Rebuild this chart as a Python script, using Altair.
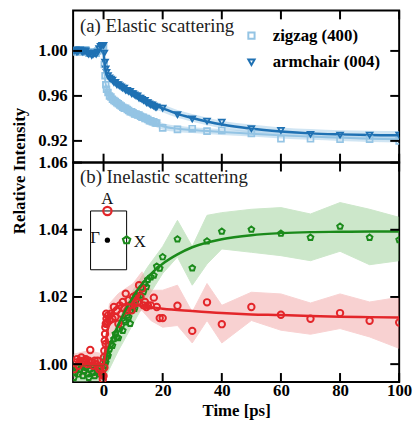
import altair as alt
import pandas as pd

SERIF = "Liberation Serif"

# ---------------- axes ----------------
X_DOMAIN = [-10.3, 100.0]
TOP_DOMAIN = [0.9007, 1.036]
BOT_DOMAIN = [0.9947, 1.06]
X_TICKS = [0, 20, 40, 60, 80, 100]
TOP_Y_TICKS = [0.92, 0.96, 1.00]
BOT_Y_TICKS = [1.00, 1.02, 1.04, 1.06]

SERIES = ["zigzag (400)", "armchair (004)"]
PANEL_A = "(a)  Elastic scattering"
PANEL_B = "(b)  Inelastic scattering"

# ---------------- (a) elastic ----------------
TOP_DENSE_T = [-10, -9.5, -9, -8.5, -8, -7.5, -7, -6.5, -6, -5.5, -5, -4.5, -4, -3.5, -3, -2.5, -2, -1.5, -1, -0.5,
               0, 0.25, 0.5, 0.75, 1, 1.5, 2, 2.5, 3, 3.5, 4, 4.5, 5, 5.5, 6, 6.5, 7, 7.5, 8, 8.5, 9, 9.5,
               10, 10.5, 11, 11.5, 12, 12.5, 13, 13.5, 14, 14.5, 15, 15.5, 16, 16.5, 17, 17.5, 18]
ARMCHAIR_DENSE = [1.000, 1.001, 0.999, 1.000, 1.001, 1.000, 0.999, 1.000, 1.000, 0.998, 0.997, 0.998, 0.996, 0.997,
                  0.998, 0.997, 0.999, 1.002, 1.004, 1.005,
                  1.005, 0.998, 0.990, 0.984, 0.981, 0.978, 0.976, 0.975, 0.974, 0.972, 0.972, 0.970, 0.970, 0.969,
                  0.968, 0.967, 0.967, 0.965, 0.965, 0.964, 0.964, 0.962, 0.962, 0.961, 0.960, 0.960, 0.958, 0.958,
                  0.957, 0.956, 0.956, 0.954, 0.954, 0.953, 0.952, 0.952, 0.951, 0.950, 0.950]
ZIGZAG_DENSE = [1.000, 0.999, 1.000, 1.001, 0.999, 1.000, 1.000, 0.999, 1.001, 0.999, 0.998, 0.999, 0.998, 0.998,
                0.999, 0.998, 1.000, 1.001, 1.003, 1.004,
                1.003, 0.988, 0.978, 0.970, 0.966, 0.963, 0.960, 0.959, 0.957, 0.956, 0.955, 0.954, 0.953, 0.952,
                0.951, 0.950, 0.949, 0.949, 0.948, 0.947, 0.946, 0.946, 0.945, 0.944, 0.944, 0.943, 0.943, 0.942,
                0.941, 0.941, 0.940, 0.940, 0.939, 0.938, 0.938, 0.937, 0.937, 0.936, 0.936]
TOP_SPARSE_T = [20, 25, 30, 35, 40, 50, 60, 70, 80, 90, 100]
ZIGZAG_SPARSE = [0.9316, 0.9302, 0.9308, 0.9287, 0.9293, 0.9267, 0.9220, 0.9220, 0.9215, 0.9215, 0.9200]
ARMCHAIR_SPARSE = [0.9491, 0.9433, 0.9395, 0.9375, 0.9366, 0.9308, 0.9293, 0.9258, 0.9252, 0.9252, 0.9250]

TOP_FIT_T = [0, 0.5, 1, 2, 3, 5, 7.5, 10, 15, 20, 25, 30, 40, 50, 60, 70, 80, 90, 100]
ARMCHAIR_FIT = [1.000, 0.985, 0.979, 0.975, 0.973, 0.969, 0.965, 0.962, 0.954, 0.949, 0.944, 0.9404, 0.9345,
                0.9308, 0.9284, 0.9267, 0.9258, 0.9252, 0.9249]
ARMCHAIR_LO = [0.997, 0.982, 0.976, 0.972, 0.970, 0.966, 0.962, 0.959, 0.951, 0.9455, 0.9405, 0.937, 0.931,
               0.927, 0.9245, 0.923, 0.922, 0.9215, 0.921]
ARMCHAIR_HI = [1.003, 0.988, 0.982, 0.978, 0.976, 0.972, 0.968, 0.965, 0.957, 0.9525, 0.9475, 0.944, 0.938,
               0.9345, 0.932, 0.9305, 0.9295, 0.929, 0.9288]
ZIGZAG_FIT = [1.000, 0.975, 0.967, 0.960, 0.957, 0.953, 0.949, 0.945, 0.939, 0.933, 0.9308, 0.9296, 0.9279,
              0.9264, 0.9249, 0.9238, 0.9229, 0.9220, 0.9215]
ZIGZAG_LO = [0.997, 0.972, 0.964, 0.957, 0.954, 0.950, 0.946, 0.942, 0.936, 0.930, 0.928, 0.927, 0.9253,
             0.9238, 0.9222, 0.921, 0.920, 0.919, 0.9185]
ZIGZAG_HI = [1.003, 0.978, 0.970, 0.963, 0.960, 0.956, 0.952, 0.948, 0.942, 0.936, 0.9336, 0.9322, 0.9305,
             0.929, 0.9276, 0.9266, 0.9258, 0.925, 0.9245]

# ---------------- (b) inelastic ----------------
BOT_DENSE_T = [-10, -9.5, -9, -8.5, -8, -7.5, -7, -6.5, -6, -5.5, -5, -4.5, -4, -3.5, -3, -2.5, -2, -1.5, -1, -0.5,
               0, 0.25, 0.5, 0.75, 1, 1.25, 1.5, 2, 2.5, 3, 3.5, 4, 4.5, 5, 5.5, 6, 6.5, 7, 7.5, 8, 8.5, 9, 9.5,
               10, 10.5, 11, 11.5, 12, 12.5, 13, 13.5, 14, 14.5, 15, 16, 17, 18, 19, 20]
A_DENSE = [0.9985, 1.0005, 1.0015, 0.9995, 1.0010, 1.0020, 1.0005, 1.0010, 1.0015, 1.0000, 1.0010, 1.0042,
           1.0005, 0.9995, 1.0010, 1.0000, 1.0010, 0.9985, 0.9990, 0.9970,
           0.9965, 1.0040, 1.0090, 1.0120, 1.0135, 1.0125, 1.0145, 1.0130, 1.0150, 1.0135, 1.0170, 1.0140,
           1.0160, 1.0120, 1.0175, 1.0150, 1.0185, 1.0165, 1.0210, 1.0160, 1.0190, 1.0175, 1.0160, 1.0200,
           1.0180, 1.0205, 1.0185, 1.0235, 1.0200, 1.0225, 1.0175, 1.0185, 1.0170, 1.0175, 1.0175, 1.0198,
           1.0170, 1.0137, 1.0137]
A_EXTRA_T = [-0.25, 0.1, 0.4, 0.6, 0.9, 1.1, 0.3, 0.7]
A_EXTRA = [0.9955, 1.0020, 1.0070, 1.0110, 1.0150, 1.0120, 0.9990, 1.0060]
X_DENSE = [0.9960, 0.9975, 0.9990, 0.9970, 0.9985, 0.9995, 0.9965, 0.9980, 0.9990, 0.9970, 0.9960, 0.9985,
           0.9995, 0.9975, 0.9965, 0.9985, 0.9980, 0.9970, 0.9990, 0.9975,
           0.9985, 0.9995, 1.0010, 1.0005, 1.0020, 1.0030, 1.0025, 1.0045, 1.0060, 1.0055, 1.0075, 1.0090,
           1.0080, 1.0078, 1.0105, 1.0115, 1.0100, 1.0130, 1.0125, 1.0145, 1.0140, 1.0121, 1.0160, 1.0170,
           1.0165, 1.0190, 1.0200, 1.0215, 1.0205, 1.0225, 1.0215, 1.0240, 1.0230, 1.0252, 1.0259, 1.0264,
           1.0291, 1.0285, 1.0319]
BOT_SPARSE_T = [25, 30, 35, 40, 50, 60, 70, 80, 90, 100]
A_SPARSE = [1.0174, 1.0099, 1.0184, 1.0119, 1.0170, 1.0147, 1.0135, 1.0152, 1.0129, 1.0124]
X_SPARSE = [1.0372, 1.0286, 1.0366, 1.0395, 1.0401, 1.0389, 1.0377, 1.0410, 1.0377, 1.0370]

A_FIT_T = [-10, 0, 1, 2, 3, 4, 6, 8, 10, 15, 20, 30, 40, 50, 60, 70, 80, 90, 100]
A_FIT = [1.0000, 1.0000, 1.0080, 1.0130, 1.0155, 1.0168, 1.0176, 1.0178, 1.0177, 1.0171, 1.0165, 1.0158,
         1.0152, 1.0148, 1.0146, 1.0143, 1.0141, 1.0140, 1.0139]
X_FIT_T = [-10, 0, 2, 5, 10, 15, 20, 25, 30, 40, 50, 60, 70, 80, 90, 100]
X_FIT = [1.0000, 1.0000, 1.0053, 1.0118, 1.0201, 1.0259, 1.0299, 1.0327, 1.0348, 1.0372, 1.0384, 1.0390,
         1.0393, 1.0394, 1.0395, 1.0395]

A_BAND_T = [-10, -5, 0, 2, 5, 10, 13, 16, 20, 25, 30, 35, 40, 50, 60, 70, 80, 90, 100]
A_BAND_LO = [0.9960, 0.9970, 0.9950, 1.0080, 1.0120, 1.0150, 1.0160, 1.0130, 1.0110, 1.0115, 1.0063, 1.0130,
             1.0063, 1.0130, 1.0101, 1.0089, 1.0106, 1.0081, 1.0047]
A_BAND_HI = [1.0030, 1.0040, 1.0030, 1.0180, 1.0210, 1.0240, 1.0275, 1.0220, 1.0220, 1.0235, 1.0155, 1.0240,
             1.0175, 1.0214, 1.0209, 1.0182, 1.0209, 1.0185, 1.0199]
X_BAND_T = [-10, -5, 0, 5, 10, 15, 20, 25, 30, 35, 40, 50, 60, 70, 80, 90, 100]
X_BAND_LO = [0.9940, 0.9950, 0.9950, 1.0040, 1.0120, 1.0200, 1.0270, 1.0319, 1.0235, 1.0298, 1.0343, 1.0333,
             1.0323, 1.0308, 1.0336, 1.0296, 1.0308]
X_BAND_HI = [1.0000, 1.0010, 1.0020, 1.0130, 1.0220, 1.0290, 1.0350, 1.0428, 1.0350, 1.0443, 1.0451, 1.0461,
             1.0466, 1.0447, 1.0481, 1.0461, 1.0437]

# inset (Brillouin-zone sketch) in data coordinates
INSET_BOX = {"x1": [-4.4], "x2": [7.8], "y1": [1.0281], "y2": [1.0456]}
INSET_A = ([1.3], [1.0456])
INSET_G = ([1.3], [1.0369])
INSET_X = ([7.8], [1.0369])
INSET_LABELS = ["A", "Γ", "X"]
INSET_LABEL_T = [1.3, -2.9, 12.3]
INSET_LABEL_V = [1.0491, 1.0374, 1.0362]

# ---------------- styles ----------------
W, H_TOP, H_BOT, TICK = 330, 154, 222, 9
LIGHT = "#94c4e4"
DARK = "#1f71b3"
BAND_BLUE = "#a9d0ea"
RED = "#e3262a"
GREEN = "#1b8a1b"
PENTAGON = "M0,-1L0.951,-0.309L0.588,0.809L-0.588,0.809L-0.951,-0.309Z"
FS = 17

xscale = alt.Scale(domain=X_DOMAIN, nice=False, zero=False)
top_scale = alt.Scale(domain=TOP_DOMAIN, nice=False, zero=False)
bot_scale = alt.Scale(domain=BOT_DOMAIN, nice=False, zero=False)

x_axis_bot = alt.Axis(values=X_TICKS, format="d", title="Time [ps]", labelFlush=False,
                      labelPadding=1, titlePadding=4)
y_axis_top = alt.Axis(values=TOP_Y_TICKS, format=".2f", title="Relative Intensity", titleX=-54,
                      titleY=162, titleBaseline="middle", titleAlign="center", labelPadding=6)
y_axis_bot = alt.Axis(values=BOT_Y_TICKS, format=".2f", title=None, labelPadding=6)


def X(field, axis):
    return alt.X(field, type="quantitative", scale=xscale, axis=axis)


def YT(field):
    return alt.Y(field, type="quantitative", scale=top_scale, axis=y_axis_top)


def YB(field):
    return alt.Y(field, type="quantitative", scale=bot_scale, axis=y_axis_bot)


def tick_layers(xaxis, Y, yticks, h):
    xt = pd.DataFrame({"t": X_TICKS})
    yt = pd.DataFrame({"v": yticks})
    r = dict(color="black", strokeWidth=2)
    return [
        alt.Chart(xt).mark_rule(**r).encode(x=X("t", xaxis), y=alt.value(0), y2=alt.value(TICK)),
        alt.Chart(xt).mark_rule(**r).encode(x=X("t", xaxis), y=alt.value(h - TICK), y2=alt.value(h)),
        alt.Chart(yt).mark_rule(**r).encode(y=Y("v"), x=alt.value(0), x2=alt.value(TICK)),
        alt.Chart(yt).mark_rule(**r).encode(y=Y("v"), x=alt.value(W - TICK), x2=alt.value(W)),
    ]


# ----- top panel -----
leg = alt.Legend(orient="none", legendX=172, legendY=17, title=None, direction="vertical",
                 labelFont=SERIF, labelFontSize=FS, labelFontWeight="bold", labelColor="black",
                 symbolStrokeWidth=2, symbolSize=40, rowPadding=9, labelOffset=13)
cscale = alt.Scale(domain=SERIES, range=[LIGHT, DARK])
sscale = alt.Scale(domain=SERIES, range=["square", "triangle-down"])

dense_top = pd.DataFrame({
    "t": TOP_DENSE_T + TOP_DENSE_T,
    "v": ZIGZAG_DENSE + ARMCHAIR_DENSE,
    "s": [SERIES[0]] * len(TOP_DENSE_T) + [SERIES[1]] * len(TOP_DENSE_T),
})
sparse_top = pd.DataFrame({
    "t": TOP_SPARSE_T + TOP_SPARSE_T,
    "v": ZIGZAG_SPARSE + ARMCHAIR_SPARSE,
    "s": [SERIES[0]] * len(TOP_SPARSE_T) + [SERIES[1]] * len(TOP_SPARSE_T),
})
zig_fit = pd.DataFrame({"t": TOP_FIT_T, "v": ZIGZAG_FIT, "lo": ZIGZAG_LO, "hi": ZIGZAG_HI})
arm_fit = pd.DataFrame({"t": TOP_FIT_T, "v": ARMCHAIR_FIT, "lo": ARMCHAIR_LO, "hi": ARMCHAIR_HI})

top_layers = [
    alt.Chart(zig_fit).mark_area(color=BAND_BLUE, opacity=0.55, clip=True, interpolate="monotone")
    .encode(x=X("t", None), y=YT("lo"), y2="hi"),
    alt.Chart(arm_fit).mark_area(color=BAND_BLUE, opacity=0.55, clip=True, interpolate="monotone")
    .encode(x=X("t", None), y=YT("lo"), y2="hi"),
    alt.Chart(dense_top).mark_point(filled=False, size=32, strokeWidth=1.9, clip=True, opacity=1)
    .encode(x=X("t", None), y=YT("v"),
            color=alt.Color("s:N", scale=cscale, legend=leg),
            shape=alt.Shape("s:N", scale=sscale, legend=leg)),
    alt.Chart(zig_fit).mark_line(color=LIGHT, strokeWidth=2, clip=True, interpolate="monotone")
    .encode(x=X("t", None), y=YT("v")),
    alt.Chart(arm_fit).mark_line(color=DARK, strokeWidth=2.5, clip=True, interpolate="monotone")
    .encode(x=X("t", None), y=YT("v")),
    alt.Chart(sparse_top).mark_point(filled=False, size=36, strokeWidth=1.7, clip=True, opacity=1)
    .encode(x=X("t", None), y=YT("v"),
            color=alt.Color("s:N", scale=cscale, legend=leg),
            shape=alt.Shape("s:N", scale=sscale, legend=leg)),
    alt.Chart(pd.DataFrame({"label": [PANEL_A]})).mark_text(
        font=SERIF, fontSize=19, color="#222222", align="left", baseline="alphabetic")
    .encode(text="label:N", x=alt.value(7), y=alt.value(22)),
] + tick_layers(None, YT, TOP_Y_TICKS, H_TOP)

top = alt.layer(*top_layers).properties(width=W, height=H_TOP)

# ----- bottom panel -----
a_band = pd.DataFrame({"t": A_BAND_T, "lo": A_BAND_LO, "hi": A_BAND_HI})
x_band = pd.DataFrame({"t": X_BAND_T, "lo": X_BAND_LO, "hi": X_BAND_HI})
a_pts = pd.DataFrame({"t": BOT_DENSE_T + A_EXTRA_T + BOT_SPARSE_T, "v": A_DENSE + A_EXTRA + A_SPARSE})
x_pts = pd.DataFrame({"t": BOT_DENSE_T + BOT_SPARSE_T, "v": X_DENSE + X_SPARSE})
a_fit = pd.DataFrame({"t": A_FIT_T, "v": A_FIT})
x_fit = pd.DataFrame({"t": X_FIT_T, "v": X_FIT})

xa = x_axis_bot
bot_layers = [
    alt.Chart(x_band).mark_area(color="#8fca8a", opacity=0.45, clip=True, stroke="#8fca8a", strokeWidth=1)
    .encode(x=X("t", xa), y=YB("lo"), y2="hi"),
    alt.Chart(a_band).mark_area(color="#f09a9a", opacity=0.45, clip=True, stroke="#f09a9a", strokeWidth=1)
    .encode(x=X("t", xa), y=YB("lo"), y2="hi"),
    alt.Chart(x_pts).mark_point(filled=False, shape=PENTAGON, size=36, strokeWidth=2, color=GREEN, clip=True,
                                opacity=1)
    .encode(x=X("t", xa), y=YB("v")),
    alt.Chart(a_pts).mark_point(filled=False, shape="circle", size=42, strokeWidth=2, color=RED, clip=True,
                                opacity=1)
    .encode(x=X("t", xa), y=YB("v")),
    alt.Chart(x_fit).mark_line(color=GREEN, strokeWidth=2.5, clip=True, interpolate="monotone")
    .encode(x=X("t", xa), y=YB("v")),
    alt.Chart(a_fit).mark_line(color=RED, strokeWidth=2.5, clip=True, interpolate="monotone")
    .encode(x=X("t", xa), y=YB("v")),
    # inset
    alt.Chart(pd.DataFrame(INSET_BOX)).mark_rect(fillOpacity=0, stroke="black", strokeWidth=1)
    .encode(x=X("x1", xa), x2="x2", y=YB("y1"), y2="y2"),
    alt.Chart(pd.DataFrame({"t": INSET_A[0], "v": INSET_A[1]})).mark_point(
        filled=False, shape="circle", size=70, strokeWidth=2.2, color=RED, opacity=1)
    .encode(x=X("t", xa), y=YB("v")),
    alt.Chart(pd.DataFrame({"t": INSET_G[0], "v": INSET_G[1]})).mark_point(
        filled=True, shape="circle", size=28, color="black", opacity=1)
    .encode(x=X("t", xa), y=YB("v")),
    alt.Chart(pd.DataFrame({"t": INSET_X[0], "v": INSET_X[1]})).mark_point(
        filled=False, shape=PENTAGON, size=60, strokeWidth=2.2, color=GREEN, opacity=1)
    .encode(x=X("t", xa), y=YB("v")),
    alt.Chart(pd.DataFrame({"t": INSET_LABEL_T, "v": INSET_LABEL_V, "label": INSET_LABELS})).mark_text(
        font=SERIF, fontSize=17, color="#111111", align="center", baseline="middle")
    .encode(x=X("t", xa), y=YB("v"), text="label:N"),
    alt.Chart(pd.DataFrame({"label": [PANEL_B]})).mark_text(
        font=SERIF, fontSize=19, color="#222222", align="left", baseline="alphabetic")
    .encode(text="label:N", x=alt.value(7), y=alt.value(21)),
] + tick_layers(xa, YB, BOT_Y_TICKS, H_BOT)

bot = alt.layer(*bot_layers).properties(width=W, height=H_BOT)

chart = (
    alt.vconcat(top, bot, spacing=0, bounds="flush")
    .properties(padding={"left": 10, "top": 6, "right": 0, "bottom": 2})
    .configure_view(stroke="black", strokeWidth=2)
    .configure_axis(tickSize=0, domain=False, grid=False, labelFont=SERIF, labelFontSize=FS,
                    labelFontWeight="bold", labelColor="black", titleFont=SERIF, titleFontSize=FS,
                    titleFontWeight="bold", titleColor="black")
)

chart.save("out.html", embed_options={"renderer": "svg", "actions": False})
